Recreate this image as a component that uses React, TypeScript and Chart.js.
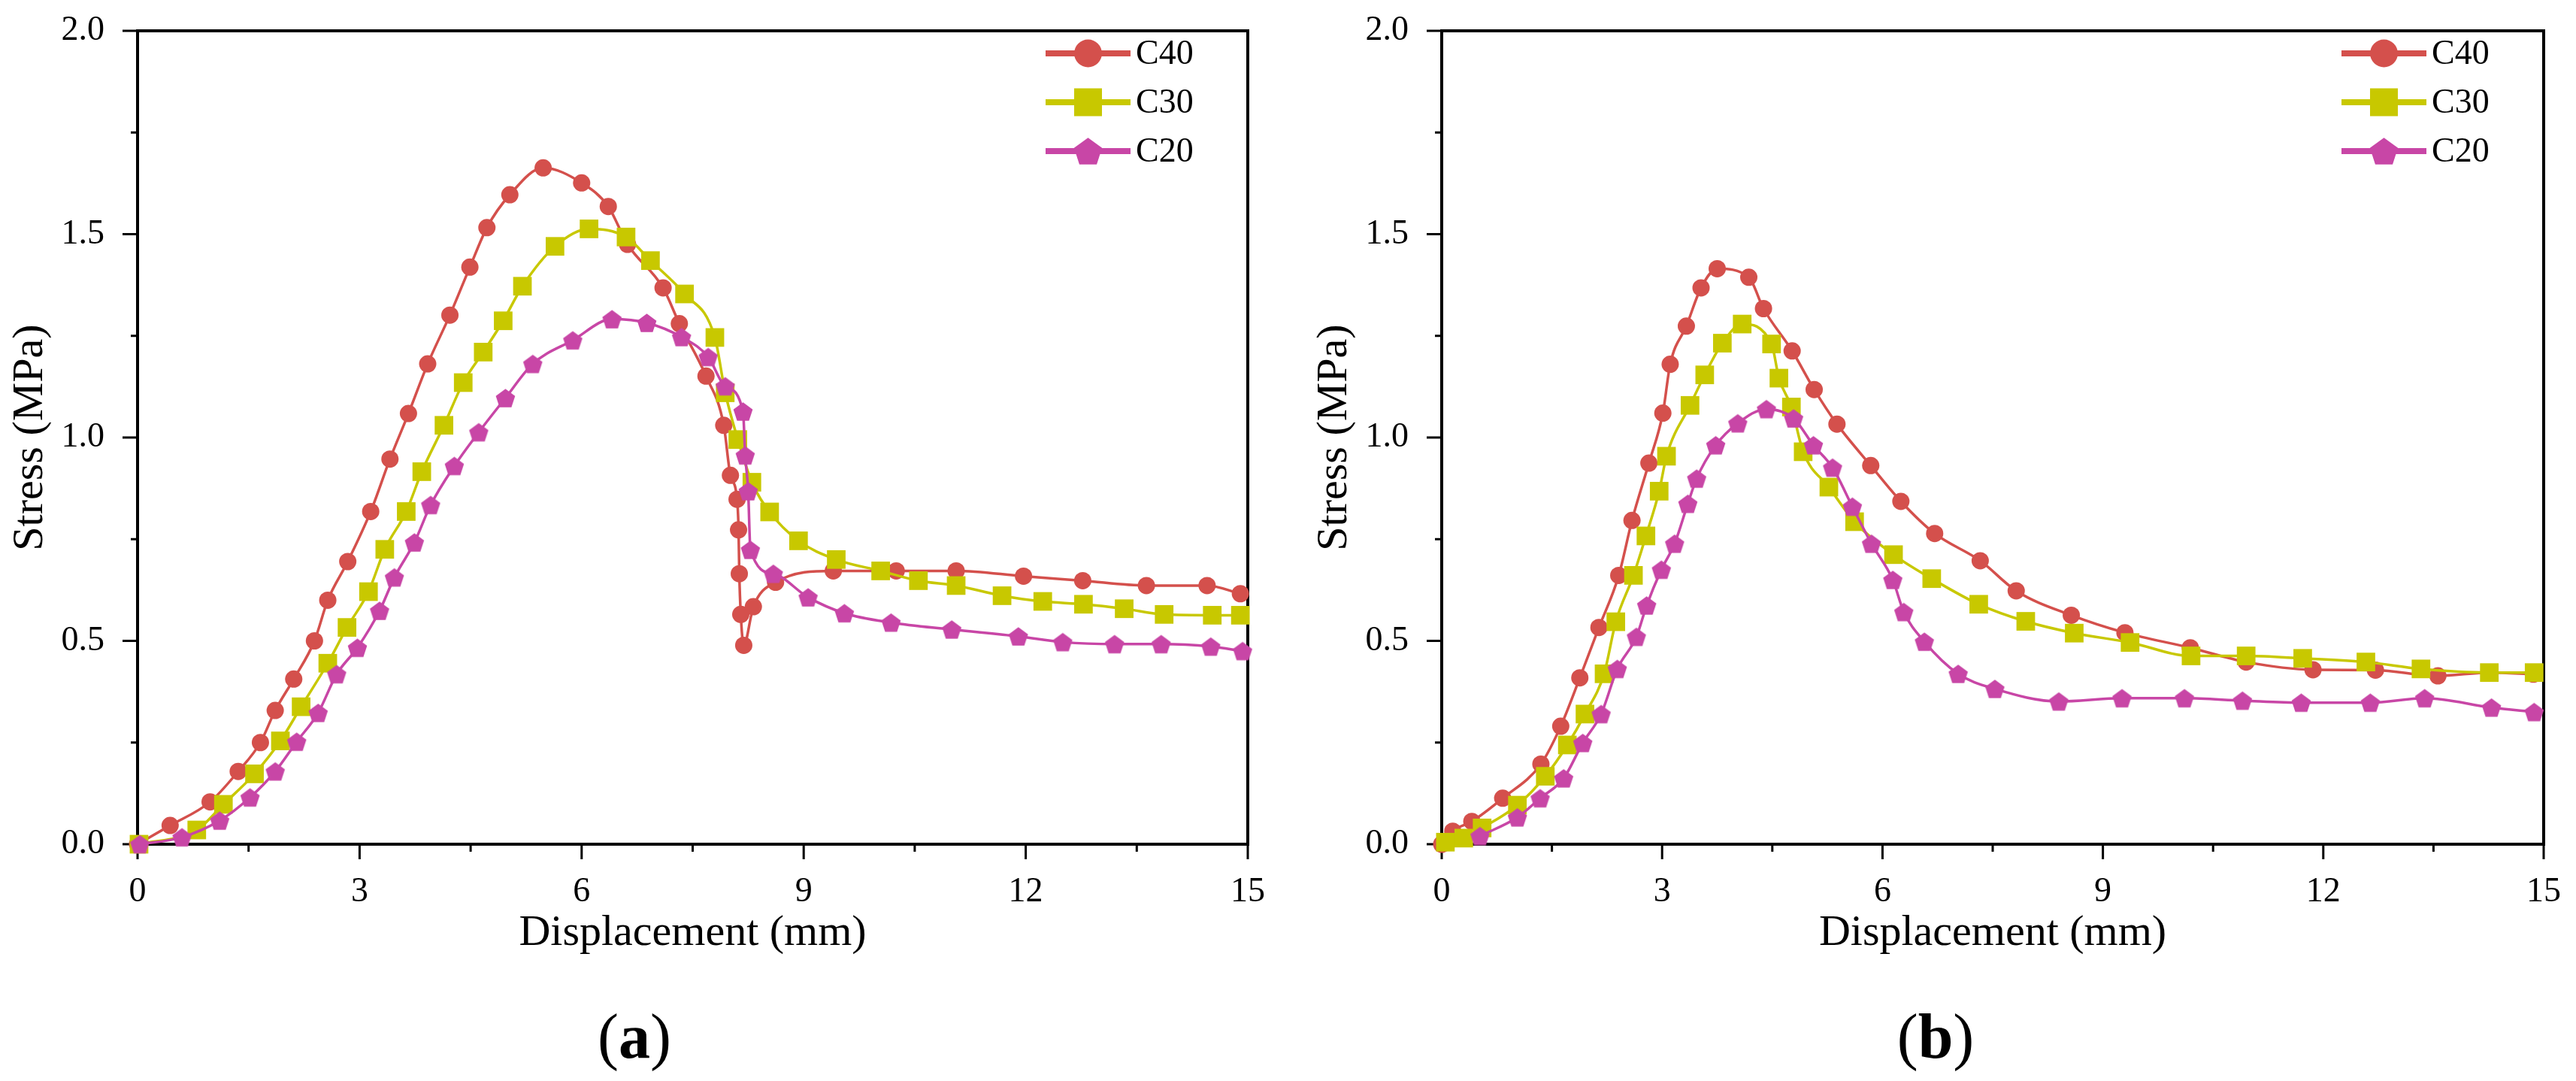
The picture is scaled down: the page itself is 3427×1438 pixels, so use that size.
import { useEffect, useRef } from "react";
import Chart from "chart.js/auto";

const FONT = "'Liberation Serif', 'Times New Roman', serif";
const SERIES = ["C40", "C30", "C20"];
const COLORS = ["#d4504c", "#c8c800", "#c846a6"];

// panel (a)
const aC40X = [0, 0.44, 0.98, 1.36, 1.66, 1.86, 2.11, 2.39, 2.57, 2.84, 3.15, 3.41, 3.66, 3.92, 4.22, 4.49, 4.72, 5.03, 5.48, 6.0, 6.36, 6.62, 7.1, 7.32, 7.68, 7.92, 8.01, 8.1, 8.12, 8.13, 8.15, 8.19, 8.32, 8.62, 9.4, 10.25, 11.06, 11.97, 12.77, 13.63, 14.45, 14.9];
const aC40Y = [0, 0.046, 0.104, 0.179, 0.25, 0.329, 0.406, 0.5, 0.6, 0.695, 0.818, 0.947, 1.059, 1.181, 1.301, 1.419, 1.516, 1.597, 1.663, 1.626, 1.568, 1.475, 1.368, 1.28, 1.151, 1.03, 0.907, 0.848, 0.773, 0.665, 0.565, 0.489, 0.584, 0.644, 0.672, 0.672, 0.672, 0.659, 0.648, 0.636, 0.636, 0.616];
const aC30X = [0.02, 0.8, 1.16, 1.58, 1.93, 2.21, 2.57, 2.83, 3.12, 3.34, 3.63, 3.84, 4.14, 4.4, 4.67, 4.94, 5.2, 5.64, 6.1, 6.6, 6.93, 7.39, 7.8, 7.94, 8.11, 8.3, 8.54, 8.93, 9.44, 10.04, 10.55, 11.06, 11.68, 12.23, 12.78, 13.33, 13.87, 14.52, 14.9];
const aC30Y = [0, 0.035, 0.098, 0.173, 0.254, 0.338, 0.445, 0.533, 0.621, 0.725, 0.818, 0.916, 1.03, 1.135, 1.21, 1.287, 1.372, 1.47, 1.513, 1.493, 1.435, 1.353, 1.246, 1.11, 0.995, 0.89, 0.817, 0.746, 0.7, 0.672, 0.648, 0.636, 0.611, 0.597, 0.59, 0.579, 0.565, 0.563, 0.563];
const aC20X = [0.03, 0.6, 1.11, 1.52, 1.86, 2.15, 2.44, 2.69, 2.97, 3.27, 3.47, 3.74, 3.96, 4.28, 4.61, 4.97, 5.34, 5.88, 6.41, 6.88, 7.35, 7.71, 7.94, 8.18, 8.21, 8.25, 8.28, 8.59, 9.06, 9.55, 10.18, 11.0, 11.9, 12.5, 13.2, 13.83, 14.5, 14.93];
const aC20Y = [0, 0.017, 0.058, 0.115, 0.179, 0.252, 0.323, 0.418, 0.483, 0.574, 0.656, 0.742, 0.834, 0.93, 1.013, 1.097, 1.181, 1.239, 1.291, 1.282, 1.247, 1.198, 1.126, 1.064, 0.956, 0.868, 0.724, 0.665, 0.607, 0.568, 0.545, 0.528, 0.511, 0.497, 0.492, 0.492, 0.486, 0.475];

// panel (b)
const bC40X = [0, 0.15, 0.41, 0.83, 1.35, 1.62, 1.88, 2.14, 2.41, 2.59, 2.82, 3.01, 3.11, 3.33, 3.53, 3.75, 4.18, 4.38, 4.77, 5.07, 5.38, 5.84, 6.25, 6.71, 7.33, 7.82, 8.57, 9.3, 10.19, 10.95, 11.86, 12.71, 13.56, 14.27, 14.86];
const bC40Y = [0, 0.032, 0.056, 0.113, 0.197, 0.29, 0.409, 0.533, 0.661, 0.796, 0.937, 1.06, 1.18, 1.274, 1.368, 1.415, 1.394, 1.317, 1.213, 1.118, 1.033, 0.931, 0.843, 0.764, 0.697, 0.623, 0.563, 0.52, 0.483, 0.448, 0.429, 0.428, 0.414, 0.422, 0.418];
const bC30X = [0.05, 0.3, 0.55, 1.03, 1.41, 1.71, 1.95, 2.21, 2.37, 2.61, 2.78, 2.96, 3.06, 3.38, 3.58, 3.82, 4.09, 4.49, 4.59, 4.76, 4.92, 5.27, 5.62, 6.15, 6.67, 7.31, 7.95, 8.61, 9.37, 10.2, 10.95, 11.72, 12.58, 13.33, 14.26, 14.87];
const bC30Y = [0.005, 0.015, 0.04, 0.096, 0.167, 0.244, 0.32, 0.419, 0.547, 0.661, 0.758, 0.868, 0.954, 1.079, 1.154, 1.232, 1.279, 1.23, 1.146, 1.075, 0.965, 0.878, 0.793, 0.712, 0.653, 0.59, 0.548, 0.519, 0.496, 0.463, 0.463, 0.457, 0.448, 0.431, 0.422, 0.422];
const bC20X = [0.52, 1.03, 1.34, 1.66, 1.92, 2.17, 2.39, 2.65, 2.79, 2.99, 3.17, 3.35, 3.47, 3.73, 4.03, 4.42, 4.79, 5.06, 5.32, 5.59, 5.85, 6.14, 6.29, 6.57, 7.03, 7.53, 8.4, 9.26, 10.11, 10.9, 11.7, 12.64, 13.38, 14.29, 14.87];
const bC20Y = [0.02, 0.066, 0.113, 0.162, 0.249, 0.32, 0.431, 0.51, 0.587, 0.675, 0.739, 0.837, 0.899, 0.981, 1.035, 1.07, 1.047, 0.981, 0.926, 0.83, 0.739, 0.65, 0.571, 0.498, 0.419, 0.382, 0.351, 0.359, 0.359, 0.353, 0.348, 0.348, 0.359, 0.336, 0.325];

const xTicks = [0, 3, 6, 9, 12, 15];
const xMinor = [1.5, 4.5, 7.5, 10.5, 13.5];
const yTicks = [0, 0.5, 1.0, 1.5, 2.0];
const yMinor = [0.25, 0.75, 1.25, 1.75];

function pentagonPath(ctx: CanvasRenderingContext2D, cx: number, cy: number, r: number) {
  ctx.beginPath();
  for (let k = 0; k < 5; k++) {
    const a = -Math.PI / 2 + (k * 2 * Math.PI) / 5;
    const px = cx + r * Math.cos(a);
    const py = cy + r * Math.sin(a);
    if (k === 0) ctx.moveTo(px, py);
    else ctx.lineTo(px, py);
  }
  ctx.closePath();
}

function makePentagon(r: number, color: string) {
  const c = document.createElement("canvas");
  const s = Math.ceil(r * 2 + 2);
  c.width = s;
  c.height = s;
  const g = c.getContext("2d")!;
  g.fillStyle = color;
  pentagonPath(g, s / 2, s / 2 + r * 0.1, r);
  g.fill();
  return c;
}

function drawMarker(ctx: CanvasRenderingContext2D, i: number, x: number, y: number, size: number) {
  ctx.fillStyle = COLORS[i];
  if (i === 0) {
    ctx.beginPath();
    ctx.arc(x, y, size / 2, 0, Math.PI * 2);
    ctx.fill();
  } else if (i === 1) {
    ctx.fillRect(x - size / 2, y - size / 2, size, size);
  } else {
    pentagonPath(ctx, x, y + size * 0.05, size * 0.53);
    ctx.fill();
  }
}

// box + outward major/minor ticks (Origin style)
const framePlugin = {
  id: "frame",
  beforeDatasetsDraw(chart: any) {
    const { ctx, chartArea: a, scales } = chart;
    ctx.save();
    ctx.strokeStyle = "#000";
    ctx.lineWidth = 4;
    ctx.strokeRect(a.left, a.top, a.right - a.left, a.bottom - a.top);
    ctx.lineWidth = 3;
    ctx.beginPath();
    xTicks.forEach((v) => {
      const p = scales.x.getPixelForValue(v);
      ctx.moveTo(p, a.bottom);
      ctx.lineTo(p, a.bottom + 20);
    });
    xMinor.forEach((v) => {
      const p = scales.x.getPixelForValue(v);
      ctx.moveTo(p, a.bottom);
      ctx.lineTo(p, a.bottom + 10);
    });
    yTicks.forEach((v) => {
      const p = scales.y.getPixelForValue(v);
      ctx.moveTo(a.left, p);
      ctx.lineTo(a.left - 20, p);
    });
    yMinor.forEach((v) => {
      const p = scales.y.getPixelForValue(v);
      ctx.moveTo(a.left, p);
      ctx.lineTo(a.left - 9, p);
    });
    ctx.stroke();
    ctx.restore();
  },
};

const legendPlugin = {
  id: "sideLegend",
  afterDatasetsDraw(chart: any) {
    const { ctx, chartArea: a } = chart;
    ctx.save();
    SERIES.forEach((name, i) => {
      const y = a.top + 30 + i * 65;
      const x0 = a.right - 269;
      const x1 = a.right - 156;
      ctx.strokeStyle = COLORS[i];
      ctx.lineWidth = 8;
      ctx.beginPath();
      ctx.moveTo(x0, y);
      ctx.lineTo(x1, y);
      ctx.stroke();
      drawMarker(ctx, i, (x0 + x1) / 2, y, 37);
      ctx.fillStyle = "#000";
      ctx.font = `46px ${FONT}`;
      ctx.textAlign = "left";
      ctx.textBaseline = "middle";
      ctx.fillText(name, a.right - 149, y + 2);
    });
    ctx.restore();
  },
};

type PanelProps = {
  xs: number[][];
  ys: number[][];
  width: number;
  padLeft: number;
  padRight: number;
};

function Panel({ xs, ys, width, padLeft, padRight }: PanelProps) {
  const ref = useRef<HTMLCanvasElement | null>(null);

  useEffect(() => {
    if (!ref.current) return;
    const pent = makePentagon(13.5, COLORS[2]);
    const styles: any[] = ["circle", "rect", pent];
    const radii = [11.5, 17.5, 13];

    const chart = new Chart(ref.current, {
      type: "line",
      data: {
        datasets: SERIES.map((name, i) => ({
          label: name,
          data: xs[i].map((x, j) => ({ x, y: ys[i][j] })),
          borderColor: COLORS[i],
          backgroundColor: COLORS[i],
          borderWidth: 3.5,
          pointStyle: styles[i],
          pointRadius: radii[i],
          pointBackgroundColor: COLORS[i],
          pointBorderColor: COLORS[i],
          pointBorderWidth: 0,
          cubicInterpolationMode: "monotone" as const,
          clip: false as any,
          order: 2 - i,
        })),
      },
      options: {
        animation: false,
        responsive: false,
        devicePixelRatio: 1,
        layout: { padding: { left: padLeft, top: 41, right: padRight, bottom: 161 } },
        plugins: { legend: { display: false }, tooltip: { enabled: false } },
        scales: {
          x: {
            type: "linear",
            min: 0,
            max: 15,
            grid: { display: false },
            border: { display: false },
            afterBuildTicks: (s: any) => {
              s.ticks = xTicks.map((value) => ({ value }));
            },
            afterFit: (s: any) => {
              s.height = 154;
              s.paddingLeft = 0;
              s.paddingRight = 0;
            },
            ticks: {
              font: { family: FONT, size: 46 },
              color: "#000",
              padding: 28,
              maxRotation: 0,
              autoSkip: false,
              callback: (v: any) => String(v),
            },
            title: {
              display: true,
              text: "Displacement (mm)",
              font: { family: FONT, size: 58 },
              color: "#000",
              padding: 0,
            },
          },
          y: {
            type: "linear",
            min: 0,
            max: 2,
            grid: { display: false },
            border: { display: false },
            afterBuildTicks: (s: any) => {
              s.ticks = yTicks.map((value) => ({ value }));
            },
            afterFit: (s: any) => {
              s.width = 183;
              s.paddingTop = 0;
              s.paddingBottom = 0;
            },
            ticks: {
              font: { family: FONT, size: 46 },
              color: "#000",
              padding: 36,
              autoSkip: false,
              callback: (v: any) => Number(v).toFixed(1),
            },
            title: {
              display: true,
              text: "Stress (MPa)",
              font: { family: FONT, size: 58 },
              color: "#000",
              padding: 6,
            },
          },
        },
      },
      plugins: [framePlugin, legendPlugin],
    });

    return () => chart.destroy();
  }, []);

  return <canvas ref={ref} width={width} height={1438} style={{ display: "block", width, height: 1438 }} />;
}

function SubLabel({ letter, cx }: { letter: string; cx: number }) {
  return (
    <div
      style={{
        position: "absolute",
        left: cx - 200,
        top: 1337,
        width: 400,
        textAlign: "center",
        fontFamily: FONT,
        fontSize: 84,
        lineHeight: "84px",
        color: "#000",
      }}
    >
      (<b>{letter}</b>)
    </div>
  );
}

export default function App() {
  return (
    <div style={{ position: "absolute", left: 0, top: 0, width: 3427, height: 1438, background: "#fff" }}>
      <div style={{ position: "absolute", left: 0, top: 0 }}>
        <Panel xs={[aC40X, aC30X, aC20X]} ys={[aC40Y, aC30Y, aC20Y]} width={1713} padLeft={0} padRight={53} />
      </div>
      <div style={{ position: "absolute", left: 1713, top: 0 }}>
        <Panel xs={[bC40X, bC30X, bC20X]} ys={[bC40Y, bC30Y, bC20Y]} width={1714} padLeft={22} padRight={43} />
      </div>
      <SubLabel letter="a" cx={844} />
      <SubLabel letter="b" cx={2575} />
    </div>
  );
}
